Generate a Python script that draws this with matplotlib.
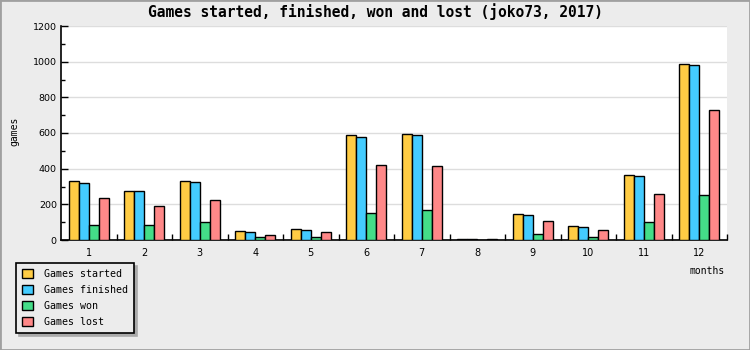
import numpy as np
import matplotlib.pyplot as plt
from matplotlib.patches import Rectangle, Patch

# data
months = ['1', '2', '3', '4', '5', '6', '7', '8', '9', '10', '11', '12']
started = [332, 276, 332, 52, 63, 586, 592, 5, 147, 80, 366, 988]
finished = [321, 276, 326, 46, 57, 575, 586, 5, 141, 74, 360, 983]
won = [85, 85, 102, 18, 18, 153, 169, 0, 35, 18, 102, 253]
lost = [237, 192, 225, 29, 46, 422, 416, 5, 108, 57, 259, 730]

series = [('Games started', started, '#ffcc44'),
          ('Games finished', finished, '#44ccff'),
          ('Games won', won, '#44dd88'),
          ('Games lost', lost, '#ff8888')]

W, H = 750, 350
fig = plt.figure(figsize=(W / 100, H / 100), dpi=100, facecolor='#ececec')
fig.patches.append(Rectangle((0, 0), 1, 1, transform=fig.transFigure,
                             fill=False, edgecolor='#a0a0a0', linewidth=2))

ax = fig.add_axes([61 / W, (H - 240) / H, 666 / W, 214 / H])
x = np.arange(1, len(months) + 1)
bw = 0.18
for i, (name, vals, col) in enumerate(series):
    ax.bar(x + (i - 1.5) * bw, vals, width=bw, color=col, edgecolor='black',
           linewidth=1, zorder=3)

ax.set_xlim(0.5, 12.5)
ax.set_ylim(0, 1200)
ax.set_yticks(np.arange(0, 1201, 200))
ax.set_yticks(np.arange(100, 1200, 200), minor=True)
ax.grid(axis='y', color='#dddddd', linewidth=1, zorder=0)
ax.set_axisbelow(True)
ax.tick_params(axis='y', which='major', direction='in', length=5, width=1,
               labelsize=6.8, pad=3)
ax.tick_params(axis='y', which='minor', direction='in', length=3, width=1)

# x ticks at group boundaries, labels at centres
ax.set_xticks(np.arange(1.5, 13, 1))
ax.set_xticklabels([])
ax.tick_params(axis='x', which='major', direction='in', length=4, width=1)
ax.set_xticks(x, minor=True)
ax.set_xticklabels(months, minor=True, fontsize=7)
ax.tick_params(axis='x', which='minor', length=0, pad=6)

for s in ['top', 'right']:
    ax.spines[s].set_visible(False)
for s in ['left', 'bottom']:
    ax.spines[s].set_linewidth(1.2)

fig.text(0.5, 1 - 12 / H, 'Games started, finished, won and lost (joko73, 2017)',
         ha='center', va='center', family='DejaVu Sans Mono', fontsize=10.5,
         fontweight='bold')
fig.text(725 / W, 1 - 271 / H, 'months', ha='right', va='center',
         family='DejaVu Sans Mono', fontsize=7)
fig.text(14 / W, 1 - 131 / H, 'games', ha='center', va='center', rotation=90,
         family='DejaVu Sans Mono', fontsize=7)

handles = [Patch(facecolor=c, edgecolor='black', linewidth=1) for _, _, c in series]
leg = fig.legend(handles, [n for n, _, _ in series], loc='upper left',
                 bbox_to_anchor=(16 / W, 1 - 263 / H), borderaxespad=0,
                 frameon=True, fancybox=False,
                 shadow={'ox': 2.2, 'oy': -2.2, 'facecolor': '#aaaaaa',
                         'edgecolor': '#aaaaaa', 'alpha': 1},
                 edgecolor='black', facecolor='#ececec', framealpha=1,
                 prop={'family': 'DejaVu Sans Mono', 'size': 7.2},
                 handlelength=1.05, handleheight=1.05, handletextpad=1.1,
                 labelspacing=0.58, borderpad=0.62)
leg.get_frame().set_linewidth(1.2)

fig.savefig('out.png', dpi=100, facecolor=fig.get_facecolor())
